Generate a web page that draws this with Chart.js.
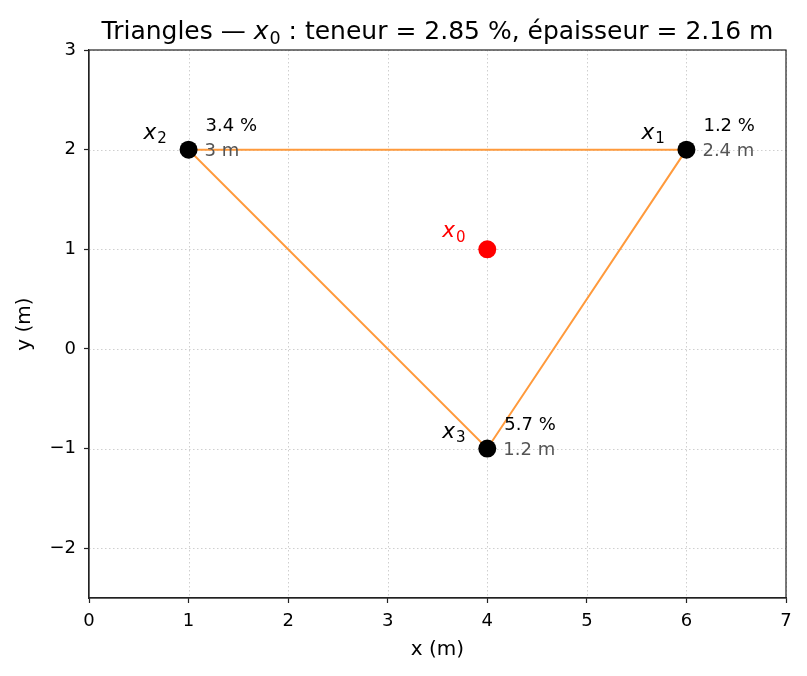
<!DOCTYPE html>
<html><head><meta charset="utf-8">
<script src="https://cdn.jsdelivr.net/npm/chart.js@4.4.1/dist/chart.umd.min.js"></script>
<style>html,body{margin:0;padding:0;background:#fff}#wrap{width:807px;height:676px}</style>
</head><body><div id="wrap"><canvas id="c" width="807" height="676"></canvas></div>
<script>
const names = ['1', '2', '3'];
const xs = [6, 1, 4];
const ys = [2, 2, -1];
const teneur = [1.2, 3.4, 5.7];
const epaisseur = [2.4, 3, 1.2];
const target = [4, 1];
const targetTeneur = 2.85;
const targetEpaisseur = 2.16;
const xTicks = [0, 1, 2, 3, 4, 5, 6, 7];
const yTicks = [-2, -1, 0, 1, 2, 3];
const xTitle = 'x (m)';
const yTitle = 'y (m)';

const FONT = '"DejaVu Sans", sans-serif';
const triPts = names.map((n, i) => ({x: xs[i], y: ys[i]}));
const tri = triPts.concat([triPts[0]]);

function fmt(v){ return (v < 0 ? '\u2212' : '') + Math.abs(v); }

function drawSub(ctx, x, y, base, sub, size, color){
  ctx.save();
  ctx.fillStyle = color;
  ctx.textBaseline = 'alphabetic';
  ctx.textAlign = 'left';
  ctx.font = 'italic ' + size + 'px ' + FONT;
  const w1 = ctx.measureText(base).width;
  ctx.fillText(base, x, y);
  ctx.font = (size*0.7) + 'px ' + FONT;
  const w2 = ctx.measureText(sub).width;
  ctx.fillText(sub, x + w1 + 1, y + size*0.2);
  ctx.restore();
  return w1 + w2 + 1;
}

const deco = {
  id: 'deco',
  beforeDatasetsDraw(chart){
    const {ctx, chartArea: a, scales: {x, y}} = chart;
    ctx.save();
    ctx.strokeStyle = '#cfcfcf';
    ctx.lineWidth = 1;
    ctx.setLineDash([1.5, 2.5]);
    xTicks.forEach(v => { const p = Math.round(x.getPixelForValue(v)) + 0.5; ctx.beginPath(); ctx.moveTo(p, a.top); ctx.lineTo(p, a.bottom); ctx.stroke(); });
    yTicks.forEach(v => { const p = Math.round(y.getPixelForValue(v)) + 0.5; ctx.beginPath(); ctx.moveTo(a.left, p); ctx.lineTo(a.right, p); ctx.stroke(); });
    ctx.restore();
  },
  afterDatasetsDraw(chart){
    const {ctx, chartArea: a, scales: {x, y}} = chart;
    ctx.save();
    names.forEach((n, i) => {
      const px = x.getPixelForValue(xs[i]), py = y.getPixelForValue(ys[i]);
      drawSub(ctx, px - 45, py - 11, 'x', n, 21.5, '#000');
      ctx.font = '18px ' + FONT;
      ctx.textAlign = 'left';
      ctx.textBaseline = 'middle';
      ctx.fillStyle = '#000';
      ctx.fillText(teneur[i] + ' %', px + 17, py - 23);
      ctx.fillStyle = '#555555';
      ctx.fillText(epaisseur[i] + ' m', px + 16, py + 2);
    });
    const tx = x.getPixelForValue(target[0]), ty = y.getPixelForValue(target[1]);
    drawSub(ctx, tx - 45, ty - 12, 'x', '0', 21.5, '#ff0000');
    // frame
    ctx.strokeStyle = '#222';
    ctx.lineWidth = 1.2;
    ctx.setLineDash([]);
    ctx.strokeRect(a.left, a.top, a.right - a.left, a.bottom - a.top);
    // axis titles
    ctx.fillStyle = '#000';
    ctx.font = '20px ' + FONT;
    ctx.textAlign = 'center';
    ctx.textBaseline = 'middle';
    ctx.fillText(xTitle, (a.left + a.right)/2, 650);
    ctx.save();
    ctx.translate(25, (a.top + a.bottom)/2);
    ctx.rotate(-Math.PI/2);
    ctx.fillText(yTitle, 0, 0);
    ctx.restore();
    // title
    const size = 25;
    ctx.fillStyle = '#000';
    ctx.textBaseline = 'alphabetic';
    ctx.textAlign = 'left';
    const p1 = 'Triangles \u2014 ';
    const p2 = ' : teneur = ' + targetTeneur + ' %, \u00e9paisseur = ' + targetEpaisseur + ' m';
    ctx.font = size + 'px ' + FONT;
    const w1 = ctx.measureText(p1).width, w3 = ctx.measureText(p2).width;
    ctx.font = 'italic ' + size + 'px ' + FONT;
    const wx = ctx.measureText('x').width;
    ctx.font = (size*0.7) + 'px ' + FONT;
    const w0 = ctx.measureText('0').width + 1;
    const total = w1 + wx + w0 + w3;
    const sx = (a.left + a.right)/2 - total/2;
    const by = 39;
    ctx.font = size + 'px ' + FONT;
    ctx.fillText(p1, sx, by);
    drawSub(ctx, sx + w1, by, 'x', '0', size, '#000');
    ctx.font = size + 'px ' + FONT;
    ctx.textAlign = 'left';
    ctx.fillText(p2, sx + w1 + wx + w0, by);
    ctx.restore();
  }
};

new Chart(document.getElementById('c'), {
  type: 'scatter',
  data: {
    datasets: [
      {label: 'points', data: triPts, backgroundColor: '#000', borderColor: '#000', pointRadius: 9, pointHoverRadius: 9, borderWidth: 0, order: 0},
      {label: 'cible', data: [{x: target[0], y: target[1]}], backgroundColor: '#ff0000', borderColor: '#ff0000', pointRadius: 9, pointHoverRadius: 9, borderWidth: 0, order: 0},
      {label: 'triangle', data: tri, showLine: true, borderColor: '#ff9a3c', borderWidth: 2, pointRadius: 0, fill: false, order: 1}
    ]
  },
  options: {
    responsive: false,
    animation: false,
    events: [],
    layout: {padding: {top: 50, right: 21, left: 0, bottom: 0}},
    plugins: {legend: {display: false}, tooltip: {enabled: false}, title: {display: false}},
    scales: {
      x: {
        type: 'linear', min: 0, max: 7,
        afterBuildTicks: s => { s.ticks = xTicks.map(v => ({value: v})); },
        afterFit: s => { s.height = 78; },
        grid: {drawOnChartArea: false, drawTicks: true, tickLength: 5, color: '#222', tickWidth: 1.2},
        border: {display: true, color: '#222', width: 1.2},
        ticks: {font: {family: FONT, size: 18}, color: '#000', padding: 8, callback: v => fmt(v), maxRotation: 0},
        title: {display: false}
      },
      y: {
        type: 'linear', min: -2.5, max: 3,
        afterBuildTicks: s => { s.ticks = yTicks.map(v => ({value: v})); },
        afterFit: s => { s.width = 89; },
        grid: {drawOnChartArea: false, drawTicks: true, tickLength: 5, color: '#222', tickWidth: 1.2},
        border: {display: true, color: '#222', width: 1.2},
        ticks: {font: {family: FONT, size: 18}, color: '#000', padding: 8, callback: v => fmt(v)},
        title: {display: false}
      }
    }
  },
  plugins: [deco]
});
</script></body></html>
